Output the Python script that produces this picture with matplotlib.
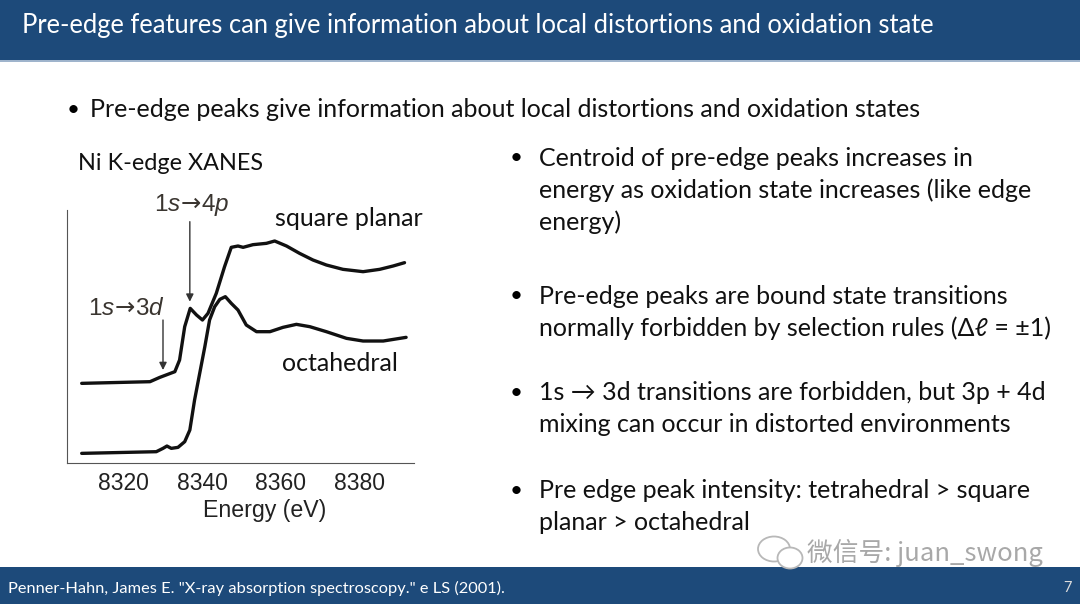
import matplotlib
matplotlib.use("Agg")
import matplotlib.pyplot as plt
from matplotlib.patches import Rectangle, Ellipse

# Ni K-edge XANES (arbitrary intensity units)
sq_energy = [8309.5, 8326.8, 8329.3, 8333.1, 8334.3, 8335.6, 8337.0, 8338.6, 8340.1,
             8341.5, 8343.6, 8345.7, 8347.4, 8349.1, 8350.4, 8352.9, 8356.3, 8358.4,
             8361.4, 8364.7, 8368.1, 8371.5, 8375.7, 8380.8, 8385.0, 8388.4, 8391.3]
sq_mu = [2.38, 2.43, 2.56, 2.73, 3.08, 4.08, 4.63, 4.43, 4.28,
         4.48, 5.08, 5.88, 6.46, 6.50, 6.46, 6.54, 6.58, 6.65,
         6.50, 6.28, 6.08, 5.93, 5.80, 5.73, 5.80, 5.90, 6.00]

oct_energy = [8309.5, 8328.4, 8330.1, 8331.1, 8332.2, 8333.9, 8335.6, 8336.9, 8338.1,
              8339.4, 8340.7, 8341.9, 8343.2, 8344.5, 8345.9, 8347.4, 8349.1, 8351.2,
              8353.8, 8357.2, 8360.5, 8363.9, 8367.3, 8371.5, 8376.6, 8380.8, 8385.9, 8391.7]
oct_mu = [0.28, 0.33, 0.43, 0.50, 0.43, 0.46, 0.63, 0.98, 1.88,
          2.68, 3.48, 4.28, 4.68, 4.90, 4.98, 4.78, 4.58, 4.13,
          3.93, 3.93, 4.06, 4.15, 4.08, 3.93, 3.73, 3.65, 3.65, 3.76]

x_ticks = [8320, 8340, 8360, 8380]

title = "Pre-edge features can give information about local distortions and oxidation state"
top_bullet = "Pre-edge peaks give information about local distortions and oxidation states"
right_bullets = [
    ["Centroid of pre-edge peaks increases in",
     "energy as oxidation state increases (like edge",
     "energy)"],
    ["Pre-edge peaks are bound state transitions",
     "normally forbidden by selection rules (\u0394\u2113 = \u00b11)"],
    ["1s \u2192 3d transitions are forbidden, but 3p + 4d",
     "mixing can occur in distorted environments"],
    ["Pre edge peak intensity: tetrahedral > square",
     "planar > octahedral"],
]
bullet_y = [158, 296, 393, 491]
footer = 'Penner-Hahn, James E. "X-ray absorption spectroscopy." e LS (2001).'

W, H = 1080, 604
blue = "#1d4a7a"
body_font = ["Lato", "DejaVu Sans"]
chart_font = ["Liberation Sans", "DejaVu Sans"]

plt.rcParams["mathtext.fontset"] = "custom"
plt.rcParams["mathtext.it"] = "Liberation Sans:italic"
plt.rcParams["mathtext.rm"] = "Liberation Sans"
plt.rcParams["mathtext.sf"] = "DejaVu Sans"


def fx(px):
    return px / W


def fy(py):
    return 1 - py / H


fig = plt.figure(figsize=(W / 100, H / 100), dpi=100)
fig.patch.set_facecolor("white")

# header and footer bands
fig.patches.append(Rectangle((0, fy(60)), 1, 60 / H, transform=fig.transFigure,
                             facecolor=blue, edgecolor="none", zorder=0))
fig.patches.append(Rectangle((0, fy(61.5)), 1, 1.5 / H, transform=fig.transFigure,
                             facecolor="#9fb4cc", edgecolor="none", zorder=0))
fig.patches.append(Rectangle((0, 0), 1, (H - 567) / H, transform=fig.transFigure,
                             facecolor=blue, edgecolor="none", zorder=0))

fig.text(fx(22), fy(25), title, color="white", fontsize=18.4, family=body_font,
         va="center", ha="left")
fig.text(fx(67), fy(110), "\u2022", color="black", fontsize=16, family=body_font, va="center")
fig.text(fx(90), fy(110), top_bullet, color="#111111", fontsize=18, family=body_font,
         va="center")

for lines, y0 in zip(right_bullets, bullet_y):
    fig.text(fx(510), fy(y0), "\u2022", color="black", fontsize=16, family=body_font,
             va="center")
    for i, line in enumerate(lines):
        fig.text(fx(539), fy(y0 + 32 * i), line, color="#111111", fontsize=18,
                 family=body_font, va="center")

fig.text(fx(8), fy(588), footer, color="white", fontsize=11.8, family=body_font, va="center")
fig.text(fx(1067), fy(588), "7", color="#dddddd", fontsize=10.5, family=body_font,
         va="center", ha="center")

# watermark
fig.patches.append(Ellipse((fx(774), fy(549)), 32 / W, 25 / H, transform=fig.transFigure,
                           facecolor="white", edgecolor="#b8b8b8", lw=1.3, zorder=5))
fig.patches.append(Ellipse((fx(790), fy(558)), 25 / W, 21 / H, transform=fig.transFigure,
                           facecolor="white", edgecolor="#b8b8b8", lw=1.3, zorder=6))
fig.text(fx(807), fy(553), "\u5fae\u4fe1\u53f7: juan_swong", color="#a8a8a8", fontsize=18.5,
         family=["Noto Sans CJK SC", "DejaVu Sans"], va="center", zorder=7)

# the XANES panel
fig.text(fx(78), fy(163), "Ni K-edge XANES", color="#111111", fontsize=16.8,
         family=body_font, va="center")

ax = fig.add_axes([fx(66.7), fy(462.7), (414 - 66.7) / W, (462.7 - 210) / H])
ax.plot(sq_energy, sq_mu, color="#111111", lw=2.4, solid_joinstyle="round",
        solid_capstyle="round")
ax.plot(oct_energy, oct_mu, color="#111111", lw=2.4, solid_joinstyle="round",
        solid_capstyle="round")
ax.set_xlim(8305.7, 8393.7)
ax.set_ylim(0, 7.58)
ax.set_xticks(x_ticks)
ax.set_yticks([])
ax.tick_params(axis="x", length=0, pad=7, labelsize=16.5, labelcolor="#222222")
for lab in ax.get_xticklabels():
    lab.set_family(chart_font)
ax.spines["top"].set_visible(False)
ax.spines["right"].set_visible(False)
ax.spines["left"].set_color("#555555")
ax.spines["bottom"].set_color("#555555")
fig.text(fx(265), fy(511), "Energy (eV)", fontsize=16.7, family=chart_font,
         color="#222222", ha="center", va="center")

arrow = dict(arrowstyle="-|>", lw=1.0, color="#333333", mutation_scale=11,
             shrinkA=0, shrinkB=0)
ax.annotate("", xy=(8336.9, 4.83), xytext=(8336.9, 7.23), arrowprops=arrow)
ax.text(8337.4, 7.73, r"$\mathrm{1}\mathit{s}\!\mathsf{\rightarrow}\!\mathrm{4}\mathit{p}$",
        fontsize=17.5, color="#3a3530", ha="center", va="center", clip_on=False)
ax.annotate("", xy=(8330.1, 2.78), xytext=(8330.1, 4.28), arrowprops=arrow)
ax.text(8320.9, 4.63, r"$\mathrm{1}\mathit{s}\!\mathsf{\rightarrow}\!\mathrm{3}\mathit{d}$",
        fontsize=17.5, color="#3a3530", ha="center", va="center")

ax.text(8377.2, 7.32, "square planar", fontsize=18, family=body_font, color="#111111",
        ha="center", va="center", clip_on=False)
ax.text(8375.0, 2.98, "octahedral", fontsize=18, family=body_font, color="#111111",
        ha="center", va="center")

fig.savefig("out.png", dpi=100)
